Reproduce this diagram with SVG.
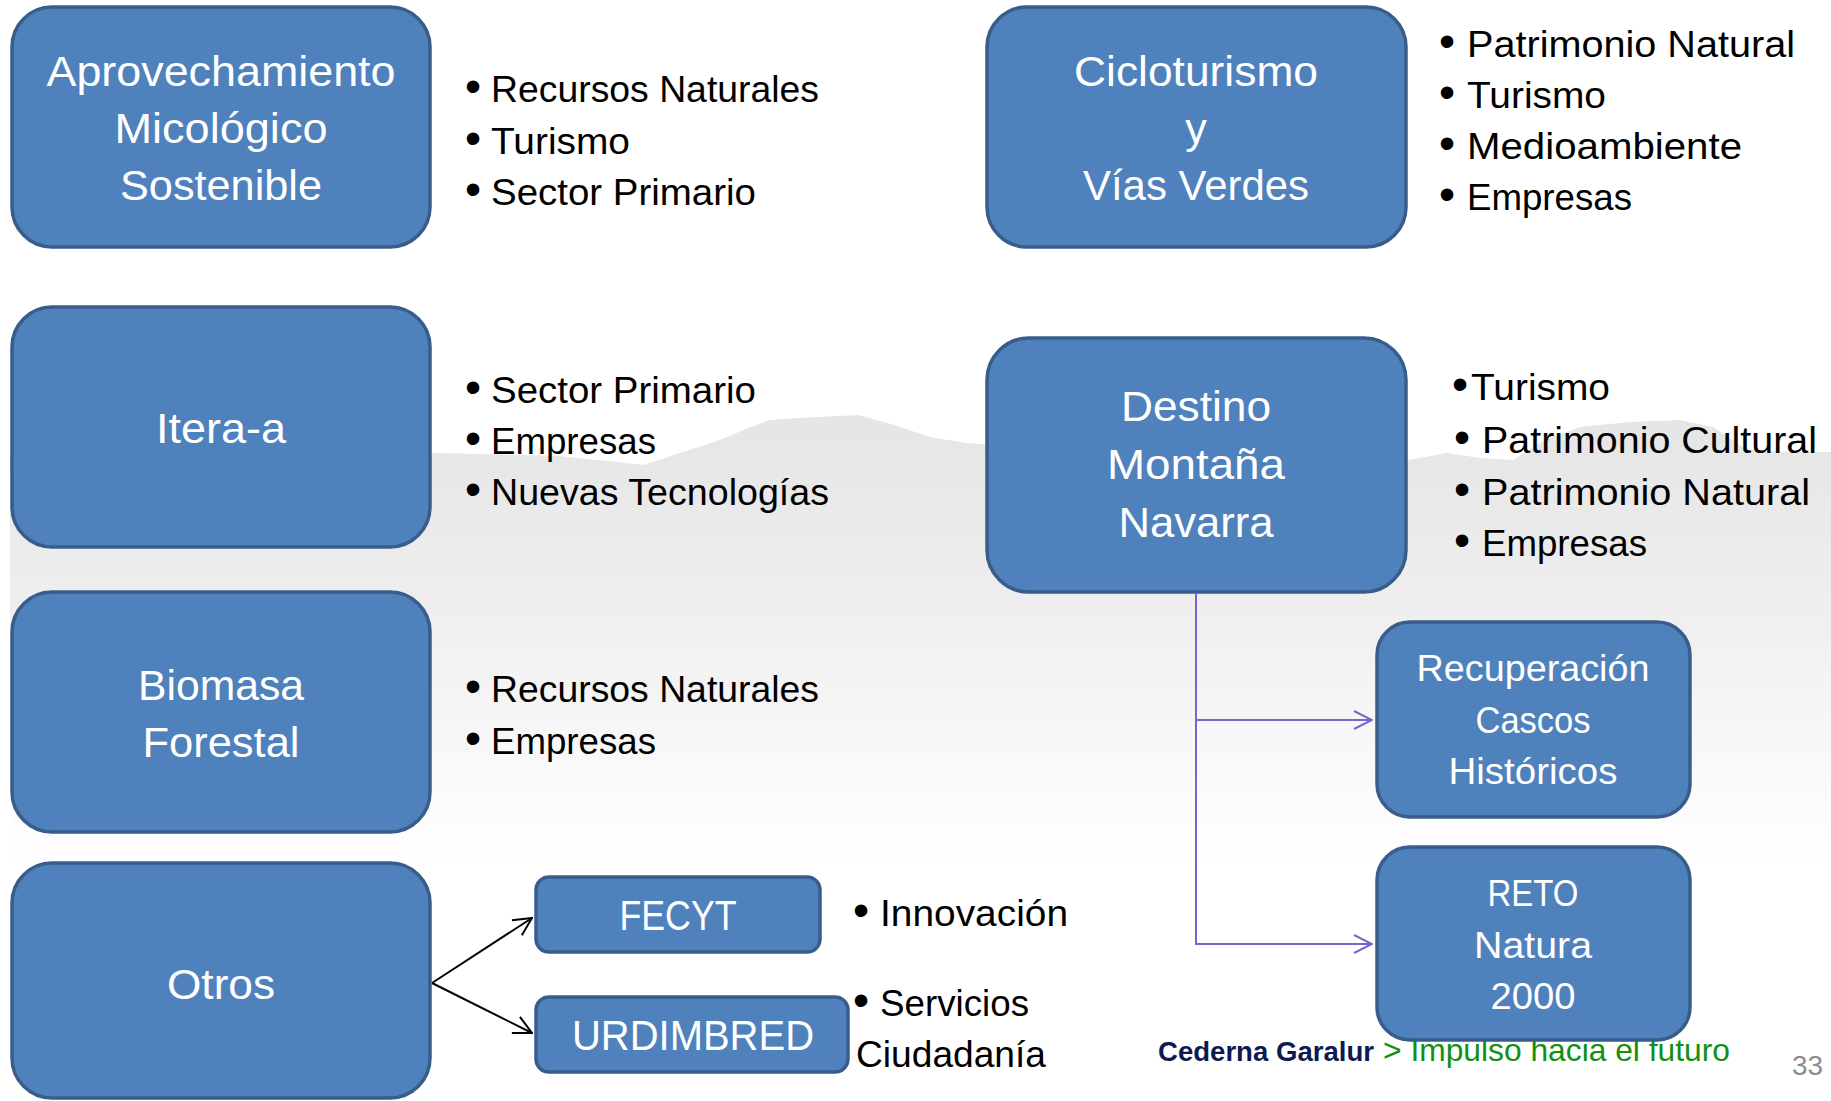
<svg xmlns="http://www.w3.org/2000/svg" width="1831" height="1101" viewBox="0 0 1831 1101">
<defs>
<style>
.box{fill:#4F81BD;stroke:#385D8A;stroke-width:3.5}
.bt{font-family:"Liberation Sans",Arial,sans-serif;font-size:43px;fill:#FFFFFF;text-anchor:middle}
.st{font-family:"Liberation Sans",Arial,sans-serif;font-size:37.5px;fill:#FFFFFF;text-anchor:middle}
.li{font-family:"Liberation Sans",Arial,sans-serif;font-size:37.5px;fill:#000000}
.bu{font-family:"Liberation Sans",Arial,sans-serif;font-size:46px;fill:#000000}
.pc{fill:none;stroke:#7466CF;stroke-width:2}
.bc{fill:none;stroke:#000000;stroke-width:2}
</style>
<linearGradient id="haze" gradientUnits="userSpaceOnUse" x1="0" y1="410" x2="0" y2="865">
<stop offset="0" stop-color="#E5E5E5"/>
<stop offset="0.2" stop-color="#E9E9E9"/>
<stop offset="0.45" stop-color="#EFEFEF"/>
<stop offset="0.75" stop-color="#F8F8F8"/>
<stop offset="1" stop-color="#FFFFFF"/>
</linearGradient>
<marker id="ap" viewBox="0 0 20 20" refX="19" refY="10" markerWidth="20" markerHeight="20" markerUnits="userSpaceOnUse" orient="auto">
<path d="M1,1 L19,10 L1,19" fill="none" stroke="#7466CF" stroke-width="2"/>
</marker>
<marker id="ab" viewBox="0 0 20 20" refX="19" refY="10" markerWidth="20" markerHeight="20" markerUnits="userSpaceOnUse" orient="auto">
<path d="M1,1 L19,10 L1,19" fill="none" stroke="#000000" stroke-width="2"/>
</marker>
</defs>
<rect x="0" y="0" width="1831" height="1101" fill="#FFFFFF"/>
<path d="M10,455 L200,452 L437,453 L560,456 L644,465 L680,453 L720,440 L751,427 L769,420 L800,418 L859,415 L894,425 L930,437 L966,443 L1000,446 L1408,460 L1447,453 L1480,458 L1513,460 L1545,440 L1580,427 L1630,422 L1680,420 L1713,427 L1747,450 L1790,452 L1831,452 L1831,870 L10,870 Z" fill="url(#haze)"/>

<g id="footer">
<text x="1158" y="1061" font-family="Liberation Sans,Arial,sans-serif" font-size="27.5" font-weight="bold" fill="#0C1A52" textLength="216" lengthAdjust="spacingAndGlyphs">Cederna Garalur</text>
<text x="1383" y="1061" font-family="Liberation Sans,Arial,sans-serif" font-size="31.5" fill="#119011" textLength="347" lengthAdjust="spacingAndGlyphs">&gt; Impulso hacia el futuro</text>
<text x="1792" y="1075" font-family="Liberation Sans,Arial,sans-serif" font-size="27.8" fill="#8C8C8C" textLength="31" lengthAdjust="spacingAndGlyphs">33</text>
</g>

<g id="connectors">
<path class="pc" d="M1196,594 L1196,944 L1372,944" marker-end="url(#ap)"/>
<path class="pc" d="M1196,720 L1372,720" marker-end="url(#ap)"/>
<path class="bc" d="M432,983 L532,918" marker-end="url(#ab)"/>
<path class="bc" d="M432,983 L532,1033" marker-end="url(#ab)"/>
</g>

<g id="node-aprovechamiento">
<rect class="box" x="12" y="7" width="418" height="240" rx="40" ry="40"/>
<text class="bt" x="221" y="86" textLength="349" lengthAdjust="spacingAndGlyphs">Aprovechamiento</text>
<text class="bt" x="221" y="143" textLength="213" lengthAdjust="spacingAndGlyphs">Micológico</text>
<text class="bt" x="221" y="200" textLength="202" lengthAdjust="spacingAndGlyphs">Sostenible</text>
</g>
<g id="list-aprovechamiento">
<text class="bu" x="465" y="102">•</text><text class="li" x="491" y="102" textLength="328" lengthAdjust="spacingAndGlyphs">Recursos Naturales</text>
<text class="bu" x="465" y="154">•</text><text class="li" x="491" y="154" textLength="139" lengthAdjust="spacingAndGlyphs">Turismo</text>
<text class="bu" x="465" y="205">•</text><text class="li" x="491" y="205" textLength="265" lengthAdjust="spacingAndGlyphs">Sector Primario</text>
</g>

<g id="node-itera">
<rect class="box" x="12" y="307" width="418" height="240" rx="40" ry="40"/>
<text class="bt" x="221" y="443" textLength="130" lengthAdjust="spacingAndGlyphs">Itera-a</text>
</g>
<g id="list-itera">
<text class="bu" x="465" y="403">•</text><text class="li" x="491" y="403" textLength="265" lengthAdjust="spacingAndGlyphs">Sector Primario</text>
<text class="bu" x="465" y="454">•</text><text class="li" x="491" y="454" textLength="165" lengthAdjust="spacingAndGlyphs">Empresas</text>
<text class="bu" x="465" y="505">•</text><text class="li" x="491" y="505" textLength="338" lengthAdjust="spacingAndGlyphs">Nuevas Tecnologías</text>
</g>

<g id="node-biomasa">
<rect class="box" x="12" y="592" width="418" height="240" rx="40" ry="40"/>
<text class="bt" x="221" y="700" textLength="166" lengthAdjust="spacingAndGlyphs">Biomasa</text>
<text class="bt" x="221" y="757" textLength="157" lengthAdjust="spacingAndGlyphs">Forestal</text>
</g>
<g id="list-biomasa">
<text class="bu" x="465" y="702">•</text><text class="li" x="491" y="702" textLength="328" lengthAdjust="spacingAndGlyphs">Recursos Naturales</text>
<text class="bu" x="465" y="754">•</text><text class="li" x="491" y="754" textLength="165" lengthAdjust="spacingAndGlyphs">Empresas</text>
</g>

<g id="node-otros">
<rect class="box" x="12" y="863" width="418" height="235" rx="40" ry="40"/>
<text class="bt" x="221" y="999" textLength="108" lengthAdjust="spacingAndGlyphs">Otros</text>
</g>

<g id="node-fecyt">
<rect class="box" x="536" y="877" width="284" height="75" rx="13" ry="13"/>
<text class="bt" x="678" y="930" textLength="117" lengthAdjust="spacingAndGlyphs">FECYT</text>
</g>
<g id="list-fecyt">
<text class="bu" x="853" y="926">•</text><text class="li" x="880" y="926" textLength="188" lengthAdjust="spacingAndGlyphs">Innovación</text>
</g>

<g id="node-urdimbred">
<rect class="box" x="536" y="997" width="312" height="75" rx="13" ry="13"/>
<text class="bt" x="693" y="1050" textLength="242" lengthAdjust="spacingAndGlyphs">URDIMBRED</text>
</g>
<g id="list-urdimbred">
<text class="bu" x="853" y="1016">•</text><text class="li" x="880" y="1016" textLength="149" lengthAdjust="spacingAndGlyphs">Servicios</text>
<text class="li" x="856" y="1067" textLength="190" lengthAdjust="spacingAndGlyphs">Ciudadanía</text>
</g>

<g id="node-cicloturismo">
<rect class="box" x="987" y="7" width="419" height="240" rx="40" ry="40"/>
<text class="bt" x="1196" y="86" textLength="244" lengthAdjust="spacingAndGlyphs">Cicloturismo</text>
<text class="bt" x="1196" y="143">y</text>
<text class="bt" x="1196" y="200" textLength="226" lengthAdjust="spacingAndGlyphs">Vías Verdes</text>
</g>
<g id="list-cicloturismo">
<text class="bu" x="1439" y="57">•</text><text class="li" x="1467" y="57" textLength="328" lengthAdjust="spacingAndGlyphs">Patrimonio Natural</text>
<text class="bu" x="1439" y="108">•</text><text class="li" x="1467" y="108" textLength="139" lengthAdjust="spacingAndGlyphs">Turismo</text>
<text class="bu" x="1439" y="159">•</text><text class="li" x="1467" y="159" textLength="275" lengthAdjust="spacingAndGlyphs">Medioambiente</text>
<text class="bu" x="1439" y="210">•</text><text class="li" x="1467" y="210" textLength="165" lengthAdjust="spacingAndGlyphs">Empresas</text>
</g>

<g id="node-destino">
<rect class="box" x="987" y="338" width="419" height="254" rx="42" ry="42"/>
<text class="bt" x="1196" y="421" textLength="150" lengthAdjust="spacingAndGlyphs">Destino</text>
<text class="bt" x="1196" y="479" textLength="178" lengthAdjust="spacingAndGlyphs">Montaña</text>
<text class="bt" x="1196" y="537" textLength="155" lengthAdjust="spacingAndGlyphs">Navarra</text>
</g>
<g id="list-destino">
<text class="bu" x="1452" y="400">•</text><text class="li" x="1471" y="400" textLength="139" lengthAdjust="spacingAndGlyphs">Turismo</text>
<text class="bu" x="1454" y="453">•</text><text class="li" x="1482" y="453" textLength="335" lengthAdjust="spacingAndGlyphs">Patrimonio Cultural</text>
<text class="bu" x="1454" y="505">•</text><text class="li" x="1482" y="505" textLength="328" lengthAdjust="spacingAndGlyphs">Patrimonio Natural</text>
<text class="bu" x="1454" y="556">•</text><text class="li" x="1482" y="556" textLength="165" lengthAdjust="spacingAndGlyphs">Empresas</text>
</g>

<g id="node-recuperacion">
<rect class="box" x="1377" y="622" width="313" height="195" rx="33" ry="33"/>
<text class="st" x="1533" y="681" textLength="233" lengthAdjust="spacingAndGlyphs">Recuperación</text>
<text class="st" x="1533" y="733" textLength="115" lengthAdjust="spacingAndGlyphs">Cascos</text>
<text class="st" x="1533" y="784" textLength="169" lengthAdjust="spacingAndGlyphs">Históricos</text>
</g>

<g id="node-reto">
<rect class="box" x="1377" y="847" width="313" height="193" rx="33" ry="33"/>
<text class="st" x="1533" y="906" textLength="91" lengthAdjust="spacingAndGlyphs">RETO</text>
<text class="st" x="1533" y="958" textLength="118" lengthAdjust="spacingAndGlyphs">Natura</text>
<text class="st" x="1533" y="1009" textLength="85" lengthAdjust="spacingAndGlyphs">2000</text>
</g>
</svg>
